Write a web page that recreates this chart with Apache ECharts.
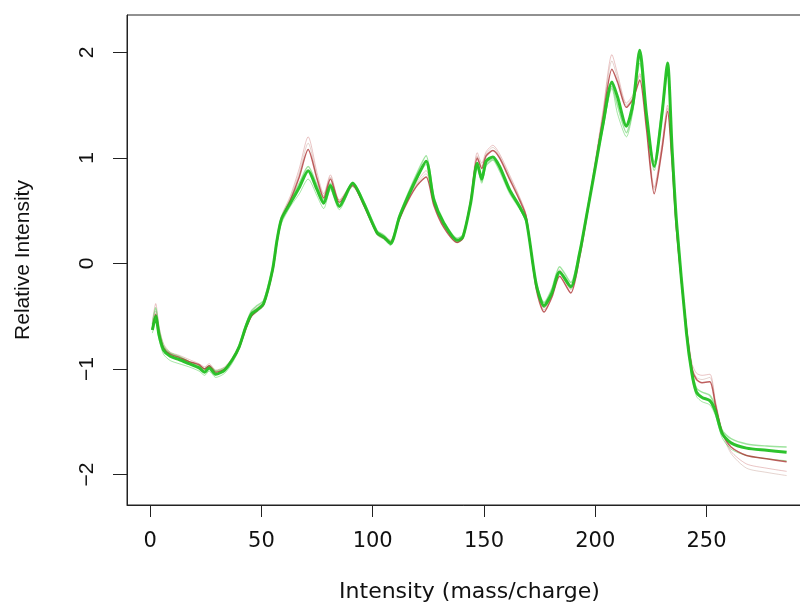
<!DOCTYPE html>
<html>
<head>
<meta charset="utf-8">
<script src="https://cdn.jsdelivr.net/npm/echarts@6/dist/echarts.min.js"></script>
<style>
  html, body { margin: 0; padding: 0; background: #fff; }
  #chart { width: 800px; height: 602px; }
</style>
</head>
<body>
<div id="chart"></div>
<script>
// positions along the spectrum (shared by every curve)
const xs = [1, 2.5, 4, 6, 9, 13, 17.5, 22, 24.5, 26.5, 29.5, 33.5, 37, 40, 43,
  45.5, 48, 51, 55, 57, 59, 63, 67, 71, 75, 78, 81, 85, 91, 96,
  102, 105, 108, 112, 116, 120, 124, 127.5, 132, 138, 140.5, 144, 147, 149, 151,
  154, 157, 161.5, 166, 169, 173.5, 177, 180.5, 184, 189, 193, 196, 199, 203.5, 207.5,
  210, 214, 217, 220, 223, 226.5, 230, 232.5, 234.5, 236.5, 241, 243.5, 245.5, 248, 251.5,
  254, 257, 261, 268, 277, 286]

// green group
const green1 = [-0.63, -0.50, -0.68, -0.82, -0.88, -0.91, -0.95, -0.99, -1.03, -0.99,
  -1.05, -1.01, -0.91, -0.79, -0.60, -0.48, -0.44, -0.38, -0.06, 0.22,
  0.42, 0.57, 0.72, 0.88, 0.70, 0.57, 0.74, 0.54, 0.76, 0.57,
  0.29, 0.25, 0.19, 0.44, 0.64, 0.82, 0.97, 0.60, 0.38, 0.22,
  0.25, 0.57, 0.95, 0.80, 0.97, 1.01, 0.92, 0.70, 0.54, 0.41,
  -0.20, -0.40, -0.28, -0.08, -0.22, 0.10, 0.44, 0.79, 1.32, 1.72,
  1.58, 1.30, 1.52, 2.02, 1.42, 0.92, 1.42, 1.90, 1.10, 0.40,
  -0.66, -1.05, -1.22, -1.27, -1.30, -1.40, -1.61, -1.70, -1.75, -1.77, -1.79]
const green2 = [-0.58, -0.42, -0.62, -0.78, -0.85, -0.88, -0.93, -0.97, -1.00, -0.97,
  -1.02, -0.99, -0.90, -0.78, -0.58, -0.45, -0.40, -0.35, -0.04, 0.24,
  0.44, 0.60, 0.76, 0.92, 0.74, 0.60, 0.76, 0.56, 0.77, 0.59,
  0.31, 0.27, 0.21, 0.46, 0.67, 0.86, 1.02, 0.63, 0.40, 0.24,
  0.27, 0.58, 0.93, 0.78, 0.93, 0.98, 0.88, 0.67, 0.52, 0.40,
  -0.18, -0.37, -0.24, -0.03, -0.18, 0.12, 0.46, 0.80, 1.30, 1.68,
  1.50, 1.24, 1.48, 1.96, 1.38, 0.96, 1.46, 1.86, 1.08, 0.42,
  -0.64, -1.02, -1.18, -1.22, -1.25, -1.36, -1.58, -1.66, -1.71, -1.73, -1.74]
const green3 = [-0.66, -0.55, -0.72, -0.86, -0.92, -0.95, -0.98, -1.02, -1.06, -1.02,
  -1.08, -1.04, -0.94, -0.81, -0.62, -0.50, -0.46, -0.40, -0.08, 0.20,
  0.38, 0.54, 0.66, 0.80, 0.64, 0.52, 0.70, 0.51, 0.73, 0.55,
  0.27, 0.23, 0.17, 0.42, 0.62, 0.80, 0.94, 0.58, 0.36, 0.20,
  0.23, 0.55, 0.90, 0.76, 0.95, 0.99, 0.90, 0.68, 0.52, 0.38,
  -0.22, -0.42, -0.30, -0.10, -0.24, 0.08, 0.42, 0.77, 1.28, 1.66,
  1.42, 1.20, 1.45, 1.90, 1.36, 0.88, 1.38, 1.82, 1.05, 0.36,
  -0.70, -1.08, -1.26, -1.31, -1.34, -1.44, -1.65, -1.76, -1.82, -1.85, -1.87]

// red group
const red1 = [-0.62, -0.48, -0.66, -0.80, -0.86, -0.89, -0.93, -0.96, -1.00, -0.97,
  -1.03, -1.00, -0.91, -0.80, -0.62, -0.50, -0.45, -0.39, -0.08, 0.20,
  0.42, 0.60, 0.82, 1.08, 0.80, 0.62, 0.80, 0.58, 0.74, 0.55,
  0.28, 0.24, 0.20, 0.42, 0.60, 0.74, 0.82, 0.55, 0.34, 0.20,
  0.24, 0.58, 1.00, 0.90, 1.02, 1.07, 1.00, 0.80, 0.60, 0.44,
  -0.24, -0.46, -0.32, -0.12, -0.28, 0.06, 0.42, 0.80, 1.38, 1.84,
  1.72, 1.48, 1.56, 1.74, 1.28, 0.66, 1.08, 1.44, 0.96, 0.32,
  -0.62, -1.00, -1.10, -1.13, -1.12, -1.34, -1.60, -1.74, -1.82, -1.85, -1.88]
const red2 = [-0.55, -0.38, -0.60, -0.76, -0.84, -0.87, -0.91, -0.95, -0.98, -0.95,
  -1.01, -0.98, -0.89, -0.77, -0.58, -0.46, -0.42, -0.36, -0.06, 0.22,
  0.45, 0.64, 0.90, 1.20, 0.86, 0.66, 0.84, 0.60, 0.76, 0.57,
  0.30, 0.26, 0.22, 0.44, 0.62, 0.78, 0.88, 0.58, 0.36, 0.22,
  0.26, 0.62, 1.05, 0.95, 1.06, 1.12, 1.04, 0.84, 0.63, 0.46,
  -0.20, -0.42, -0.28, -0.06, -0.22, 0.10, 0.46, 0.84, 1.45, 1.98,
  1.80, 1.52, 1.60, 1.80, 1.34, 0.72, 1.14, 1.50, 1.00, 0.30,
  -0.58, -0.95, -1.04, -1.06, -1.05, -1.30, -1.58, -1.78, -1.90, -1.94, -1.97]
const red3 = [-0.60, -0.45, -0.64, -0.80, -0.87, -0.90, -0.94, -0.98, -1.01, -0.98,
  -1.04, -1.00, -0.90, -0.78, -0.60, -0.48, -0.43, -0.37, -0.07, 0.21,
  0.43, 0.62, 0.86, 1.14, 0.82, 0.64, 0.82, 0.60, 0.75, 0.56,
  0.29, 0.25, 0.21, 0.43, 0.61, 0.76, 0.85, 0.56, 0.35, 0.21,
  0.25, 0.60, 1.02, 0.92, 1.04, 1.10, 1.02, 0.82, 0.62, 0.45,
  -0.22, -0.44, -0.30, -0.08, -0.25, 0.08, 0.44, 0.82, 1.42, 1.92,
  1.76, 1.50, 1.58, 1.78, 1.30, 0.70, 1.10, 1.47, 0.98, 0.31,
  -0.60, -0.98, -1.08, -1.10, -1.08, -1.32, -1.60, -1.80, -1.94, -1.98, -2.01]

const xTicks = [0, 50, 100, 150, 200, 250]
const yTicks = [-2, -1, 0, 1, 2]

// the reference text is a bit stretched sideways: wider face for horizontal text
const wideFont = 'DejaVu Sans, sans-serif'
const font = 'Liberation Sans, Arial, sans-serif'

function pairs (ys) {
  return xs.map((x, i) => [x, ys[i]])
}

function curve (ys, color, width, opacity) {
  return {
    type: 'line',
    data: pairs(ys),
    showSymbol: false,
    smooth: 0.25,
    silent: true,
    lineStyle: { color: color, width: width, opacity: opacity }
  }
}

const myChart = echarts.init(document.getElementById('chart'))
myChart.setOption({
  animation: false,
  grid: {
    left: 127,
    right: -12,
    top: 15,
    bottom: 97,
    outerBoundsMode: 'none',
    show: true,
    borderColor: '#222',
    borderWidth: 1
  },
  xAxis: {
    type: 'value',
    min: -10.4,
    max: 297.4,
    name: 'Intensity (mass/charge)',
    nameLocation: 'middle',
    nameGap: 76,
    nameTextStyle: { fontFamily: wideFont, fontSize: 22, color: '#111' },
    axisLine: { show: true, onZero: false, lineStyle: { color: '#222' } },
    axisTick: { customValues: xTicks, length: 12, inside: false, lineStyle: { color: '#222' } },
    axisLabel: { customValues: xTicks, margin: 26, fontFamily: wideFont, fontSize: 21, color: '#111' },
    splitLine: { show: false }
  },
  yAxis: {
    type: 'value',
    min: -2.289,
    max: 2.355,
    name: 'Relative Intensity',
    nameLocation: 'middle',
    nameGap: 93,
    nameTextStyle: { fontFamily: font, fontSize: 21, color: '#111' },
    axisLine: { show: true, onZero: false, lineStyle: { color: '#222' } },
    axisTick: { customValues: yTicks, length: 14, lineStyle: { color: '#222' } },
    axisLabel: {
      customValues: yTicks,
      rotate: 90,
      margin: 29,
      fontFamily: font,
      fontSize: 21,
      color: '#111',
      formatter: v => String(v).replace('-', '\u2212')
    },
    splitLine: { show: false }
  },
  series: [
    curve(red3, '#a87060', 1, 0.3),
    curve(red2, '#b84040', 1, 0.3),
    curve(green3, '#3cc83c', 1, 0.45),
    curve(green2, '#3cc83c', 1.5, 0.5),
    curve(red1, '#a82828', 1.5, 0.75),
    curve(green1, '#22c022', 3, 0.95)
  ]
})
</script>
</body>
</html>
